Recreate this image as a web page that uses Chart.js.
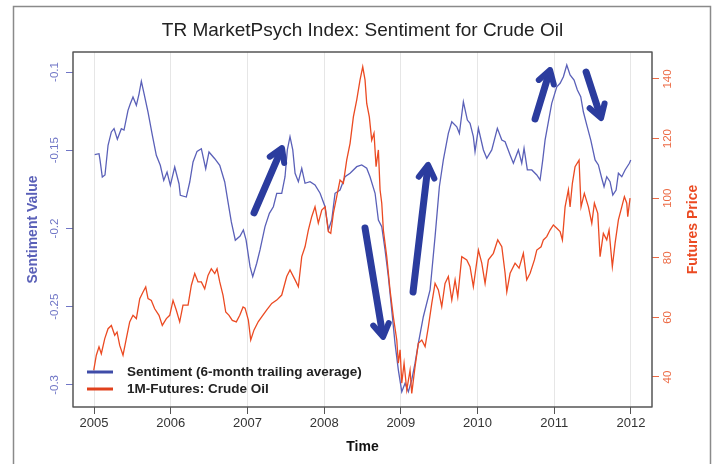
<!DOCTYPE html>
<html>
<head>
<meta charset="utf-8">
<script src="https://cdn.jsdelivr.net/npm/chart.js@4"></script>
<style>
  body { margin: 0; background: #fff; }
  #wrap { width: 718px; height: 464px; }
</style>
</head>
<body>
<div id="wrap"><canvas id="chart" width="718" height="464"></canvas></div>
<script>
// sentiment, 6-month trailing average (decimal years)
const sentYears = [
  2005.009,2005.065,2005.078,2005.108,2005.143,2005.183,2005.226,2005.261,2005.304,2005.356,
  2005.391,2005.443,2005.473,2005.508,2005.552,2005.587,2005.617,2005.648,2005.704,2005.760,
  2005.812,2005.864,2005.909,2005.952,2005.995,2006.052,2006.108,2006.125,2006.203,2006.248,
  2006.291,2006.343,2006.399,2006.456,2006.499,2006.574,2006.639,2006.704,2006.747,2006.790,
  2006.842,2006.904,2006.947,2006.982,2007.034,2007.069,2007.121,2007.164,2007.229,2007.286,
  2007.338,2007.382,2007.447,2007.490,2007.520,2007.555,2007.591,2007.621,2007.664,2007.708,
  2007.751,2007.816,2007.881,2007.947,2008.012,2008.055,2008.099,2008.142,2008.207,2008.272,
  2008.338,2008.425,2008.490,2008.555,2008.598,2008.664,2008.707,2008.751,2008.794,2008.837,
  2008.881,2008.924,2008.967,2009.012,2009.055,2009.098,2009.142,2009.185,2009.228,2009.293,
  2009.381,2009.446,2009.502,2009.554,2009.619,2009.664,2009.729,2009.763,2009.815,2009.867,
  2009.902,2009.945,2009.967,2010.011,2010.076,2010.120,2010.185,2010.258,2010.316,2010.359,
  2010.424,2010.467,2010.532,2010.576,2010.606,2010.649,2010.707,2010.772,2010.815,2010.850,
  2010.880,2010.923,2010.967,2011.033,2011.076,2011.119,2011.163,2011.206,2011.258,2011.301,
  2011.345,2011.379,2011.424,2011.476,2011.532,2011.575,2011.619,2011.649,2011.684,2011.727,
  2011.763,2011.806,2011.836,2011.880,2011.923,2011.979,2011.997
];
const sentValues = [
  -0.1528,-0.1522,-0.1562,-0.1671,-0.1658,-0.1468,-0.1383,-0.1362,-0.1430,-0.1362,
  -0.1371,-0.1245,-0.1203,-0.1160,-0.1213,-0.1139,-0.1059,-0.1128,-0.1256,-0.1404,
  -0.1532,-0.1596,-0.1692,-0.1639,-0.1724,-0.1607,-0.1714,-0.1788,-0.1799,-0.1703,
  -0.1575,-0.1507,-0.1490,-0.1618,-0.1511,-0.1554,-0.1596,-0.1703,-0.1831,-0.1958,
  -0.2075,-0.2048,-0.2010,-0.2073,-0.2244,-0.2308,-0.2222,-0.2137,-0.1988,-0.1903,
  -0.1861,-0.1775,-0.1775,-0.1669,-0.1498,-0.1413,-0.1498,-0.1647,-0.1701,-0.1615,
  -0.1711,-0.1701,-0.1722,-0.1775,-0.1861,-0.2010,-0.1946,-0.1775,-0.1754,-0.1669,
  -0.1647,-0.1605,-0.1594,-0.1615,-0.1669,-0.1775,-0.1946,-0.1988,-0.2137,-0.2308,
  -0.2521,-0.2734,-0.2904,-0.3043,-0.2989,-0.3043,-0.2968,-0.2861,-0.2734,-0.2564,
  -0.2393,-0.2052,-0.1733,-0.1562,-0.1392,-0.1318,-0.1350,-0.1392,-0.1190,-0.1307,
  -0.1328,-0.1413,-0.1509,-0.1360,-0.1498,-0.1551,-0.1498,-0.1360,-0.1435,-0.1445,
  -0.1530,-0.1583,-0.1498,-0.1583,-0.1488,-0.1626,-0.1626,-0.1658,-0.1690,-0.1562,
  -0.1435,-0.1318,-0.1200,-0.1094,-0.1072,-0.1030,-0.0955,-0.1019,-0.1051,-0.1115,
  -0.1158,-0.1254,-0.1339,-0.1435,-0.1562,-0.1594,-0.1679,-0.1733,-0.1669,-0.1701,
  -0.1786,-0.1754,-0.1647,-0.1669,-0.1626,-0.1583,-0.1562
];

// 1M futures, crude oil
const oilYears = [
  2004.996,2005.030,2005.065,2005.095,2005.140,2005.183,2005.226,2005.270,2005.300,2005.335,
  2005.378,2005.421,2005.465,2005.508,2005.552,2005.596,2005.639,2005.674,2005.704,2005.747,
  2005.791,2005.847,2005.890,2005.943,2005.987,2006.030,2006.073,2006.117,2006.160,2006.226,
  2006.269,2006.313,2006.356,2006.399,2006.443,2006.486,2006.529,2006.574,2006.604,2006.639,
  2006.682,2006.717,2006.760,2006.803,2006.855,2006.900,2006.943,2006.969,2007.012,2007.043,
  2007.086,2007.142,2007.186,2007.252,2007.317,2007.382,2007.447,2007.512,2007.555,2007.621,
  2007.664,2007.708,2007.751,2007.794,2007.838,2007.881,2007.924,2007.969,2008.012,2008.055,
  2008.086,2008.120,2008.164,2008.207,2008.250,2008.294,2008.338,2008.381,2008.425,2008.468,
  2008.503,2008.533,2008.555,2008.589,2008.620,2008.650,2008.677,2008.707,2008.729,2008.751,
  2008.772,2008.816,2008.859,2008.902,2008.947,2008.967,2008.990,2009.012,2009.042,2009.077,
  2009.120,2009.142,2009.185,2009.228,2009.273,2009.316,2009.359,2009.403,2009.446,2009.489,
  2009.533,2009.576,2009.619,2009.664,2009.707,2009.742,2009.794,2009.859,2009.902,2009.945,
  2010.011,2010.055,2010.098,2010.141,2010.206,2010.263,2010.316,2010.359,2010.381,2010.424,
  2010.489,2010.541,2010.597,2010.641,2010.685,2010.741,2010.772,2010.828,2010.858,2010.902,
  2010.945,2010.988,2011.033,2011.076,2011.106,2011.141,2011.184,2011.206,2011.236,2011.271,
  2011.323,2011.349,2011.392,2011.445,2011.489,2011.523,2011.567,2011.597,2011.640,2011.684,
  2011.714,2011.757,2011.793,2011.836,2011.880,2011.914,2011.945,2011.958,2011.988
];
const oilValues = [
  42.2,47.3,50.1,47.8,52.9,56.2,57.3,54.0,55.1,50.6,
  47.3,52.9,58.5,60.7,59.6,66.3,68.5,70.2,66.3,65.7,
  62.9,60.7,57.3,59.6,60.7,65.7,62.4,58.5,64.1,64.1,
  70.8,74.7,71.9,71.9,69.6,74.1,76.3,74.7,76.3,71.9,
  67.4,61.8,60.7,59.0,58.5,60.7,63.5,63.1,59.1,52.4,
  55.8,58.6,60.2,62.5,64.7,65.8,67.5,73.7,75.9,72.6,
  70.3,80.4,83.7,89.3,93.8,97.1,91.6,96.0,97.1,88.8,
  88.2,94.9,100.5,106.1,105.0,112.8,118.4,127.3,133.0,139.7,
  144.1,139.7,131.8,127.3,119.5,121.8,110.6,116.2,102.8,98.3,
  89.3,80.4,69.2,60.2,52.4,44.6,49.1,37.9,44.6,35.6,
  42.3,34.5,43.5,51.3,52.4,50.2,56.9,64.7,71.4,69.2,
  63.6,71.4,73.7,65.8,72.6,66.9,80.4,79.3,77.0,70.3,
  82.6,78.2,71.4,79.3,81.5,86.0,83.7,74.8,68.6,74.8,
  78.2,76.5,81.5,72.6,74.8,79.3,82.6,83.7,86.0,87.1,
  89.3,91.0,89.9,88.8,86.0,97.1,102.8,97.1,105.0,110.6,
  112.8,97.1,101.6,97.1,91.6,98.3,94.9,80.4,88.2,86.0,
  89.3,77.0,84.9,92.7,97.1,100.5,98.3,93.8,100.0
];

const xTicks = [2005, 2006, 2007, 2008, 2009, 2010, 2011, 2012];
const sentTicks = [-0.3, -0.25, -0.2, -0.15, -0.1];
const oilTicks = [40, 60, 80, 100, 120, 140];

// hand drawn arrows (year, sentiment value)
const arrowFromX = [2007.086, 2008.533, 2009.159, 2010.750, 2011.415];
const arrowFromY = [-0.1900, -0.1997, -0.2406, -0.1300, -0.1000];
const arrowToX   = [2007.451, 2008.768, 2009.355, 2010.945, 2011.610];
const arrowToY   = [-0.1486, -0.2693, -0.1594, -0.0987, -0.1294];

const BLUE = "#5a60b8";
const RED = "#eb4a22";
const FONT = "'Liberation Sans', Arial, sans-serif";

function rotText(ctx, txt, x, y) {
  ctx.save();
  ctx.translate(x, y);
  ctx.rotate(-Math.PI / 2);
  ctx.fillText(txt, 0, 0);
  ctx.restore();
}

const overlay = {
  id: "overlay",
  beforeDraw(chart) {
    const ctx = chart.ctx;
    ctx.save();
    ctx.fillStyle = "#fff";
    ctx.fillRect(0, 0, chart.width, chart.height);
    ctx.strokeStyle = "#8a8a8a";
    ctx.lineWidth = 1.5;
    ctx.strokeRect(13.5, 6.5, 697, 470);
    ctx.restore();
  },
  afterDraw(chart) {
    const ctx = chart.ctx;
    const a = chart.chartArea;
    const sx = chart.scales.x, sy = chart.scales.y, sy1 = chart.scales.y1;
    ctx.save();

    // arrows
    ctx.strokeStyle = "#2b3c9e";
    ctx.fillStyle = "#2b3c9e";
    ctx.lineCap = "round";
    ctx.lineJoin = "round";
    for (let i = 0; i < arrowFromX.length; i++) {
      const x0 = sx.getPixelForValue(arrowFromX[i]), y0 = sy.getPixelForValue(arrowFromY[i]);
      const x1 = sx.getPixelForValue(arrowToX[i]), y1 = sy.getPixelForValue(arrowToY[i]);
      const ang = Math.atan2(y1 - y0, x1 - x0);
      const h = 15, w = 0.55;
      ctx.lineWidth = 7;
      ctx.beginPath();
      ctx.moveTo(x0, y0);
      ctx.lineTo(x1 - 4 * Math.cos(ang), y1 - 4 * Math.sin(ang));
      ctx.stroke();
      ctx.lineWidth = 6;
      ctx.beginPath();
      ctx.moveTo(x1 - h * Math.cos(ang - w), y1 - h * Math.sin(ang - w));
      ctx.lineTo(x1, y1);
      ctx.lineTo(x1 - h * Math.cos(ang + w), y1 - h * Math.sin(ang + w));
      ctx.stroke();
    }

    // plot box
    ctx.strokeStyle = "#555";
    ctx.lineWidth = 1.5;
    ctx.strokeRect(a.left, a.top, a.right - a.left, a.bottom - a.top);

    // title
    ctx.fillStyle = "#222";
    ctx.textAlign = "center";
    ctx.textBaseline = "middle";
    ctx.font = "19px " + FONT;
    ctx.fillText("TR MarketPsych Index: Sentiment for Crude Oil", (a.left + a.right) / 2, 31);

    // x axis
    ctx.fillStyle = "#333";
    ctx.font = "13px " + FONT;
    xTicks.forEach(v => ctx.fillText(String(v), sx.getPixelForValue(v), 423));
    ctx.fillStyle = "#111";
    ctx.font = "bold 14px " + FONT;
    ctx.fillText("Time", (a.left + a.right) / 2, 447);

    // left axis
    ctx.fillStyle = "#7076c6";
    ctx.font = "11.5px " + FONT;
    sentTicks.forEach(v => rotText(ctx, String(v), 55, sy.getPixelForValue(v)));
    ctx.fillStyle = BLUE;
    ctx.font = "bold 14px " + FONT;
    rotText(ctx, "Sentiment Value", 33, (a.top + a.bottom) / 2);

    // right axis
    ctx.fillStyle = "#ec6a44";
    ctx.font = "11.5px " + FONT;
    oilTicks.forEach(v => rotText(ctx, String(v), 668, sy1.getPixelForValue(v)));
    ctx.fillStyle = RED;
    ctx.font = "bold 14px " + FONT;
    rotText(ctx, "Futures Price", 693, (a.top + a.bottom) / 2);

    // legend
    const ds = chart.data.datasets;
    const legY = [372, 389];
    const legCol = ["#3f4ca8", "#e0401c"];
    ctx.lineWidth = 3;
    ctx.lineCap = "butt";
    ctx.textAlign = "left";
    ctx.font = "bold 13.5px " + FONT;
    ds.forEach((d, i) => {
      ctx.strokeStyle = legCol[i];
      ctx.beginPath();
      ctx.moveTo(87, legY[i]);
      ctx.lineTo(113, legY[i]);
      ctx.stroke();
      ctx.fillStyle = "#222";
      ctx.fillText(d.label, 127, legY[i]);
    });
    ctx.restore();
  }
};

const canvas = document.getElementById("chart");
new Chart(canvas, {
  type: "line",
  data: {
    datasets: [
      {
        label: "Sentiment (6-month trailing average)",
        data: sentYears.map((x, i) => ({ x: x, y: sentValues[i] })),
        yAxisID: "y",
        borderColor: BLUE,
        borderWidth: 1.3,
        pointRadius: 0,
        tension: 0,
        order: 2
      },
      {
        label: "1M-Futures: Crude Oil",
        data: oilYears.map((x, i) => ({ x: x, y: oilValues[i] })),
        yAxisID: "y1",
        borderColor: RED,
        borderWidth: 1.3,
        pointRadius: 0,
        tension: 0,
        order: 1
      }
    ]
  },
  options: {
    responsive: false,
    animation: false,
    layout: { padding: { top: 52, left: 0, right: 0, bottom: 0 } },
    plugins: {
      legend: { display: false },
      title: { display: false },
      tooltip: { enabled: false }
    },
    scales: {
      x: {
        type: "linear",
        min: 2004.726,
        max: 2012.274,
        afterBuildTicks: s => { s.ticks = xTicks.map(v => ({ value: v })); },
        afterFit: s => { s.height = 57; },
        ticks: { display: false },
        grid: { color: "#e6e6e6", tickColor: "#555", tickLength: 7, lineWidth: 1 },
        border: { display: false }
      },
      y: {
        type: "linear",
        position: "left",
        min: -0.3141,
        max: -0.0872,
        afterBuildTicks: s => { s.ticks = sentTicks.map(v => ({ value: v })); },
        afterFit: s => { s.width = 73; },
        ticks: { display: false },
        grid: { drawOnChartArea: false, tickColor: "#7076c6", tickLength: 7 },
        border: { display: false }
      },
      y1: {
        type: "linear",
        position: "right",
        min: 29.93,
        max: 149.06,
        afterBuildTicks: s => { s.ticks = oilTicks.map(v => ({ value: v })); },
        afterFit: s => { s.width = 66; },
        ticks: { display: false },
        grid: { drawOnChartArea: false, tickColor: "#ec6a44", tickLength: 7 },
        border: { display: false }
      }
    }
  },
  plugins: [overlay]
});
</script>
</body>
</html>
